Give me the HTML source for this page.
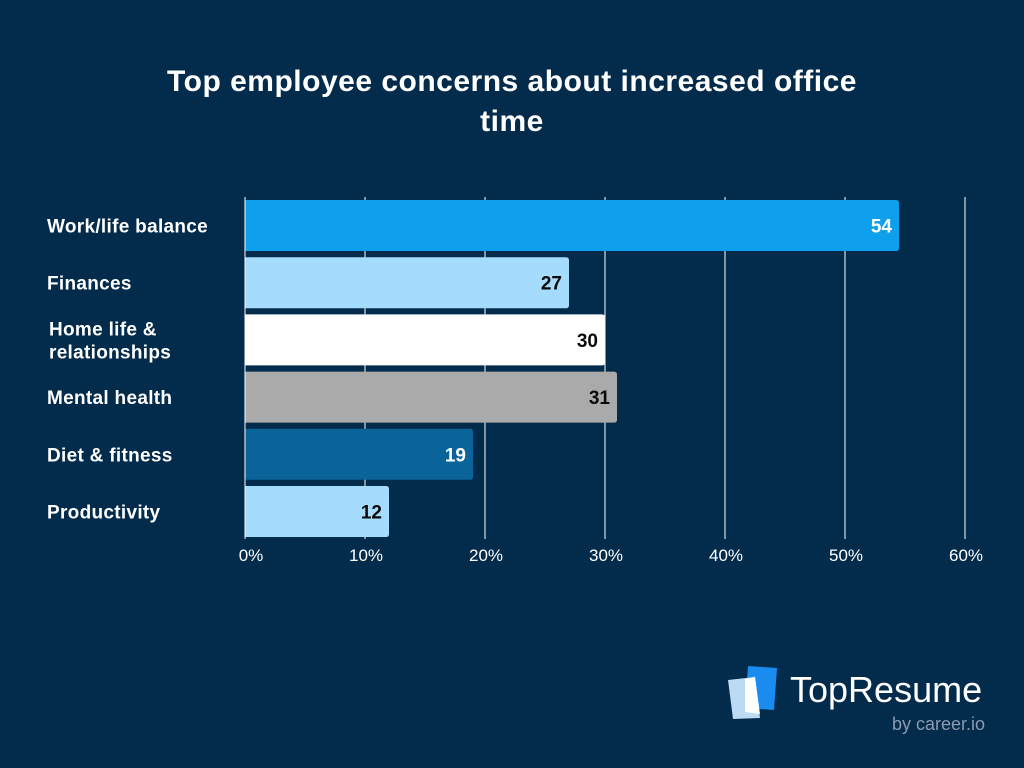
<!DOCTYPE html>
<html><head><meta charset="utf-8"><style>
body{margin:0;background:#022a4a;font-family:"Liberation Sans",sans-serif;}
#wrap{position:relative;width:1024px;height:768px;background:#032b4b;overflow:hidden}
h1{position:absolute;left:0;width:1024px;top:62px;margin:0;text-align:center;color:#fff;font-size:30px;line-height:40px;font-weight:bold;letter-spacing:0.5px}
</style></head><body>
<div id="wrap">
<h1>Top employee concerns about increased office<br>time</h1>
<svg id="chart" width="1024" height="768" style="position:absolute;left:0;top:0"></svg>
</div>
<script>
const categories=[["Work/life balance"],["Finances"],["Home life &","relationships"],["Mental health"],["Diet & fitness"],["Productivity"]];
const values=[54.5,27,30,31,19,12];
const valueLabels=["54","27","30","31","19","12"];
const ticks=[0,10,20,30,40,50,60];
const colors=["#0ea0ec","#a5dcfd","#ffffff","#aaaaaa","#0b6499","#a5dcfd"];
const labelColors=["#fff","#0a0a0a","#0a0a0a","#0a0a0a","#fff","#0a0a0a"];
const NS="http://www.w3.org/2000/svg";
const svg=document.getElementById('chart');
const x=v=>245+v*12;
const y=i=>200+i*57.2;
function mk(t,a){const e=document.createElementNS(NS,t);for(const k in a)e.setAttribute(k,a[k]);svg.appendChild(e);return e;}
ticks.forEach((t,i)=>{
  if(i>0){const l=mk('line',{x1:x(t),x2:x(t),y1:197,y2:539,stroke:'#ffffff','stroke-width':1});
  
  }
  const tx=mk('text',{x:x(t)+(i==0?6:1),y:561,fill:'#fff','font-size':17,'text-anchor':'middle'});
  tx.textContent=t+'%';
  
  
});
values.forEach((v,i)=>{
  const h=51,yy=y(i);
  const r=mk('path',{d:`M${x(0)},${yy}H${x(v)-3}Q${x(v)},${yy} ${x(v)},${yy+3}V${yy+h-3}Q${x(v)},${yy+h} ${x(v)-3},${yy+h}H${x(0)}Z`,fill:colors[i]});
  
  
  const t=mk('text',{x:x(v)-7,y:yy+h/2+7,fill:labelColors[i],'font-size':19,'font-weight':'bold','text-anchor':'end'});
  t.textContent=valueLabels[i];
  
  
  const lines=categories[i];
  lines.forEach((s,j)=>{
    const c=mk('text',{x:lines.length>1?49:47,y:yy+h/2+7+(lines.length>1?(j-0.5)*23:0),fill:'#fff','font-size':19,'font-weight':'bold','letter-spacing':0.3});
    c.textContent=s;
    
    
  });
});
const ax=mk('line',{x1:245,x2:245,y1:197,y2:539,stroke:'#fff','stroke-width':1});


const g=mk('g',{});


g.innerHTML='<polygon points="748,666 777,668 774,710 745,708" fill="#1a8cf0"/><polygon points="728,680 755,677 760,718 733,719" fill="#c6e4fb" opacity="0.95"/><polygon points="745,679 755,677 760,714 745,712" fill="#ffffff"/><text x="790" y="702" fill="#fff" font-size="36">TopResume</text><text x="985" y="730" fill="#8b9ab0" font-size="18" text-anchor="end">by career.io</text>';
</script>
</body></html>
